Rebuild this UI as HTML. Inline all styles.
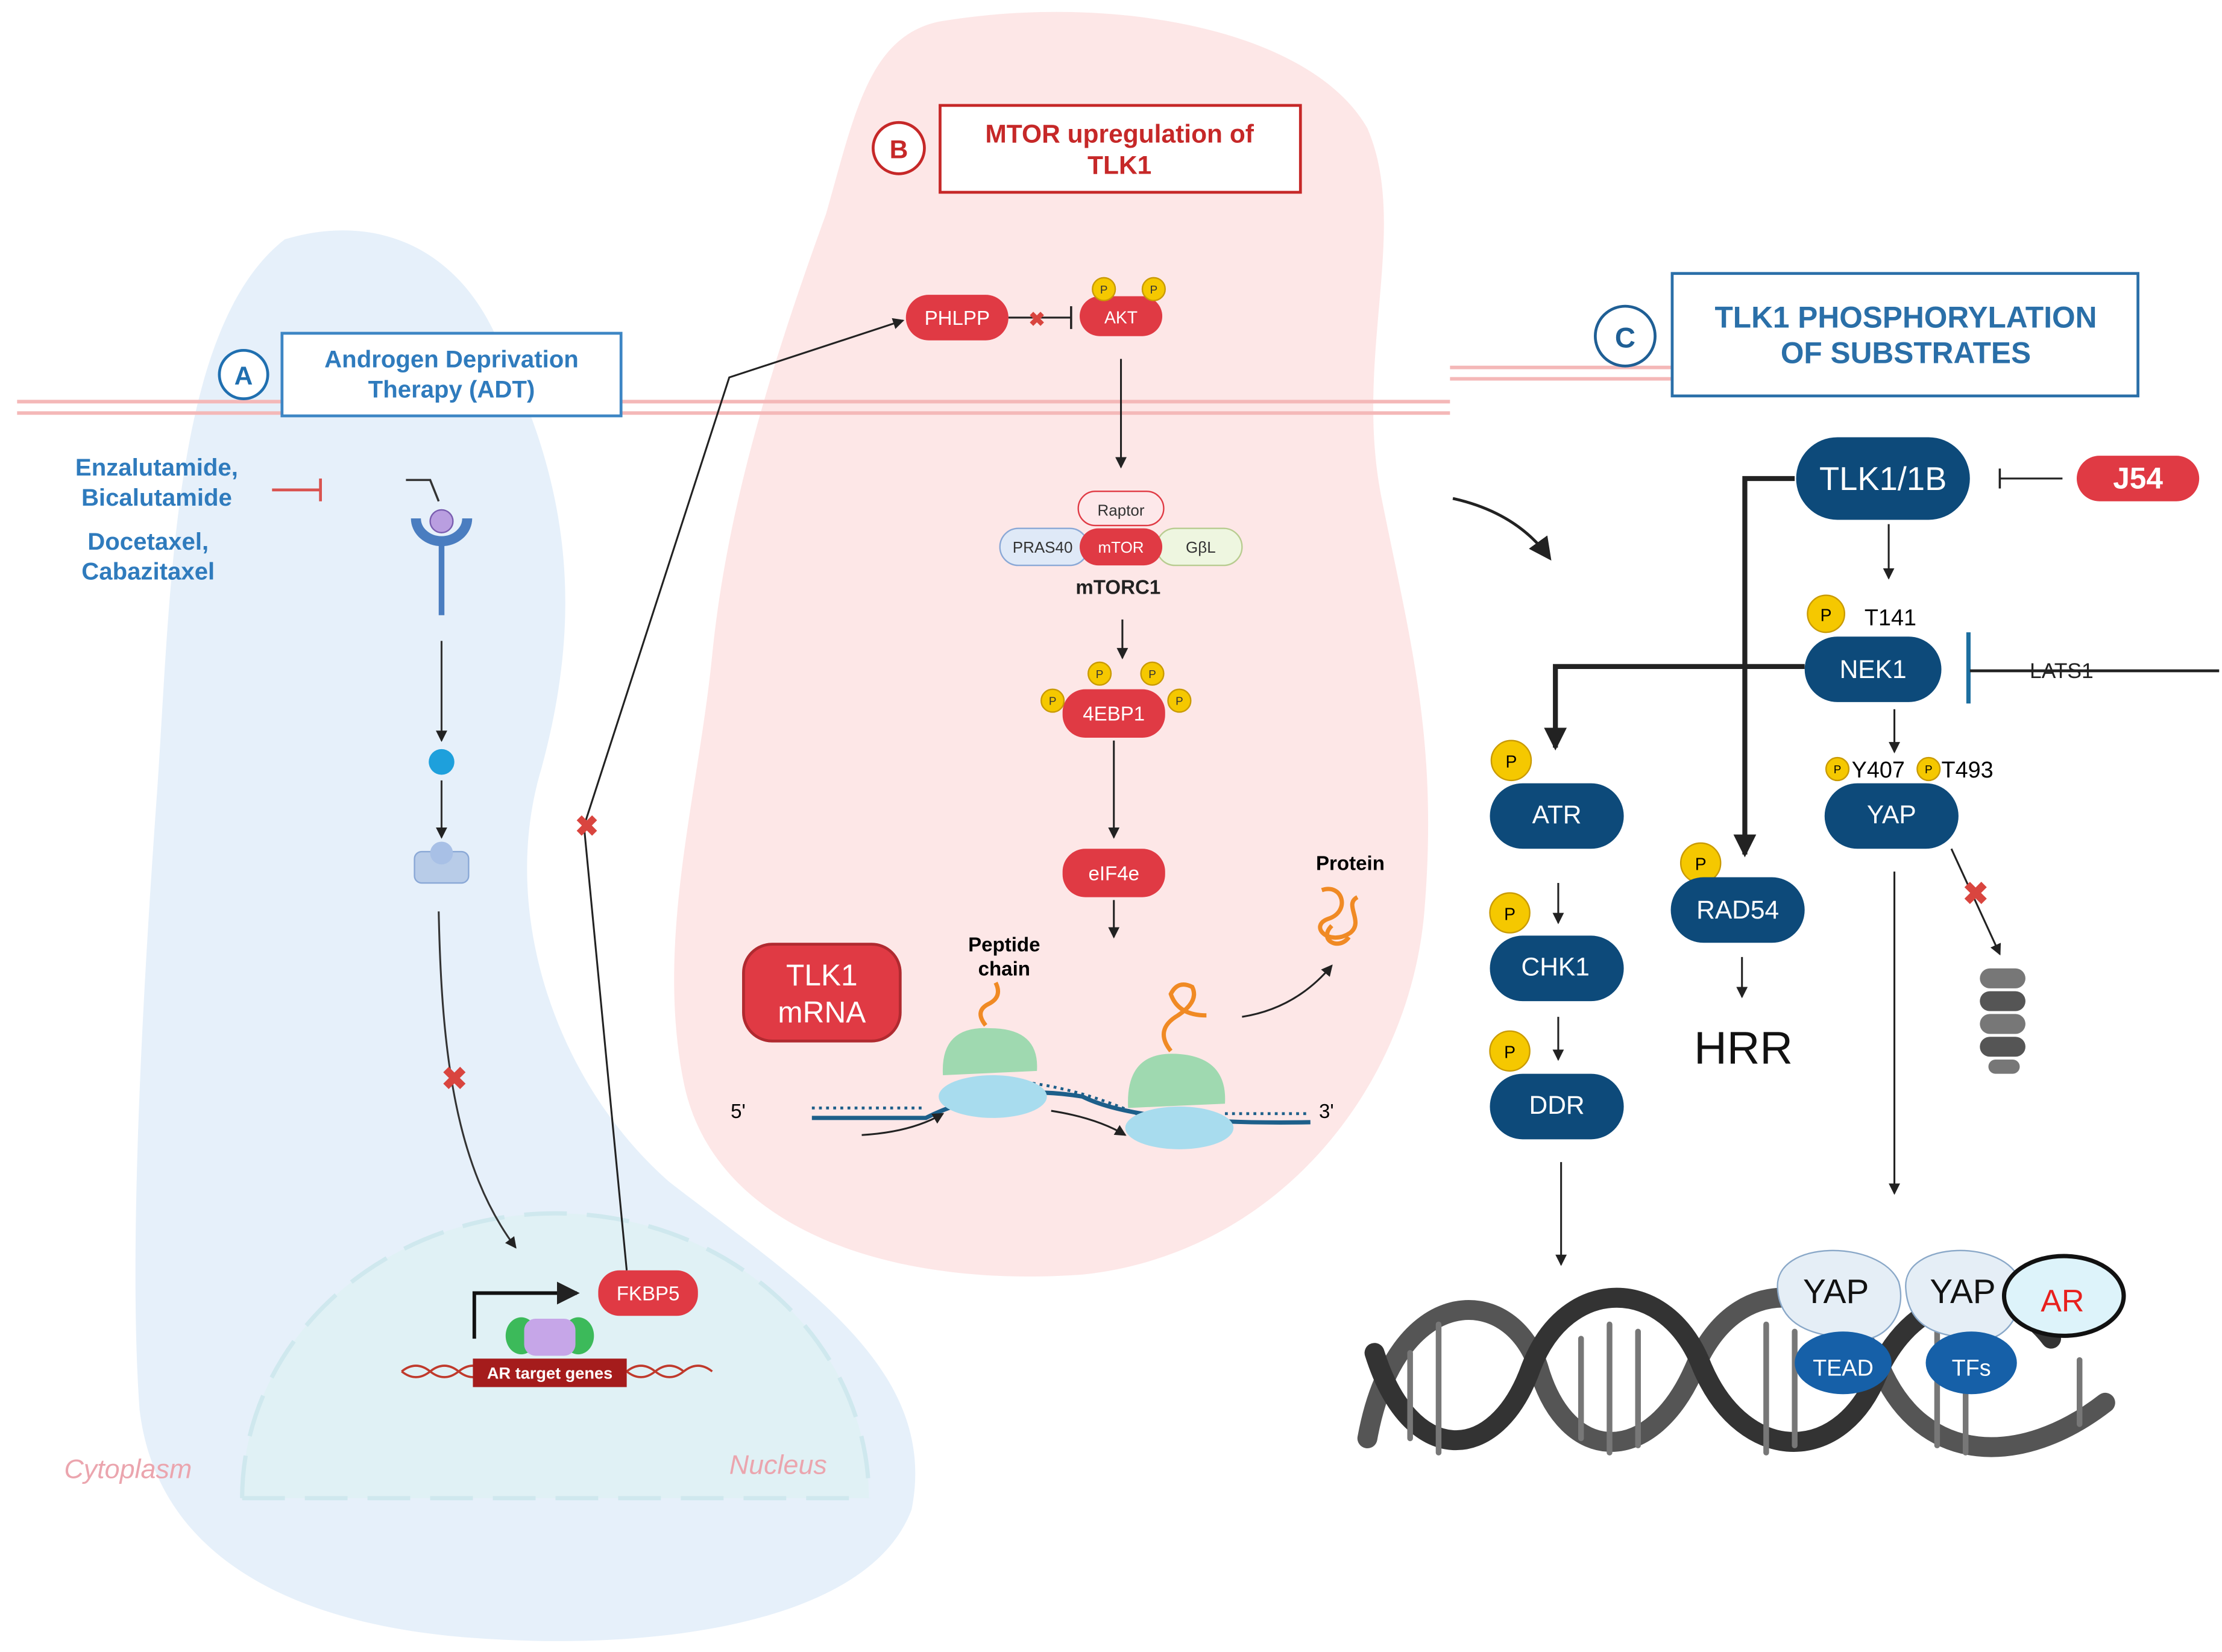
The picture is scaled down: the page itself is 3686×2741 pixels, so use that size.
<!DOCTYPE html>
<html><head><meta charset="utf-8"><style>
html,body{margin:0;padding:0;background:#fff}
svg{display:block}
text{font-family:"Liberation Sans",sans-serif}
</style></head><body>
<svg width="3686" height="2741" viewBox="0 0 1560 1160" xmlns="http://www.w3.org/2000/svg">
<defs>
<marker id="ah" markerWidth="8" markerHeight="8" refX="7" refY="4" orient="auto" markerUnits="userSpaceOnUse"><path d="M0,0 L8,4 L0,8 Z" fill="#222"/></marker>
<marker id="ahb" markerWidth="16" markerHeight="16" refX="14" refY="8" orient="auto" markerUnits="userSpaceOnUse"><path d="M0,0 L16,8 L0,16 Z" fill="#222"/></marker>
</defs>
<path d="M200,168 C260,150 320,170 350,240 C400,340 410,430 380,540 C350,640 390,760 470,830 C560,900 660,960 640,1060 C610,1140 460,1160 330,1150 C200,1140 110,1090 98,990 C90,880 100,700 110,560 C120,420 120,230 200,168 Z" fill="#e6f0fa"/>
<path d="M660,15 C780,-5 920,20 960,90 C990,160 950,250 970,350 C990,450 1010,520 1000,640 C990,760 900,880 760,895 C620,905 500,860 480,760 C460,660 490,560 500,460 C510,360 540,260 580,150 C600,80 610,25 660,15 Z" fill="#fde7e7"/>
<g stroke="#f4b8b8" stroke-width="2.5" fill="none">
<line x1="12" y1="282" x2="1018" y2="282"/><line x1="12" y1="290" x2="1018" y2="290"/>
<line x1="1018" y1="258" x2="1175" y2="258"/><line x1="1018" y1="266" x2="1175" y2="266"/>
</g>
<path d="M170,1052 A220,200 0 0 1 610,1052 Z" fill="#e0f1f5"/>
<path d="M170,1052 A220,200 0 0 1 610,1052" fill="none" stroke="#cfe8ee" stroke-width="3" stroke-dasharray="30,14"/>
<line x1="170" y1="1052" x2="610" y2="1052" stroke="#cfe8ee" stroke-width="3" stroke-dasharray="30,14"/>
<text x="45" y="1038" font-size="19" font-style="italic" fill="#eba5ae">Cytoplasm</text>
<text x="512" y="1035" font-size="19" font-style="italic" fill="#eba5ae">Nucleus</text>

<circle cx="171" cy="263" r="17" fill="#fff" stroke="#1f6fb0" stroke-width="2"/>
<text x="171" y="270" font-size="18" font-weight="bold" fill="#1f6fb0" text-anchor="middle">A</text>
<rect x="198" y="234" width="238" height="58" fill="#fff" stroke="#3d86c4" stroke-width="2"/>
<text x="317" y="258" font-size="17" font-weight="bold" fill="#2f7bbd" text-anchor="middle">Androgen Deprivation</text>
<text x="317" y="279" font-size="17" font-weight="bold" fill="#2f7bbd" text-anchor="middle">Therapy (ADT)</text>
<g font-size="17" font-weight="bold" fill="#2f7bbd" text-anchor="middle">
<text x="110" y="334">Enzalutamide,</text><text x="110" y="355">Bicalutamide</text>
<text x="104" y="386">Docetaxel,</text><text x="104" y="407">Cabazitaxel</text>
</g>
<line x1="191" y1="344" x2="225" y2="344" stroke="#d9534f" stroke-width="2"/><line x1="225" y1="336" x2="225" y2="352" stroke="#d9534f" stroke-width="2"/>
<path d="M285,337 L302,337 L308,352" fill="none" stroke="#333" stroke-width="1.5"/>
<path d="M292,364 A18,16 0 0 0 328,364" fill="none" stroke="#4a7dc0" stroke-width="7"/>
<circle cx="310" cy="366" r="8" fill="#b99ee0" stroke="#7a5db0"/>
<line x1="310" y1="380" x2="310" y2="432" stroke="#4a7dc0" stroke-width="4"/>
<line x1="310" y1="450" x2="310" y2="520" stroke="#333" stroke-width="1.3" marker-end="url(#ah)"/>
<circle cx="310" cy="535" r="9" fill="#1ea0dc"/>
<line x1="310" y1="548" x2="310" y2="588" stroke="#333" stroke-width="1.3" marker-end="url(#ah)"/>
<rect x="291" y="598" width="38" height="22" rx="5" fill="#b8cce8" stroke="#8aa8d6"/>
<circle cx="310" cy="599" r="8" fill="#a8c0e6"/>
<path d="M308,640 C310,740 320,820 362,876" fill="none" stroke="#333" stroke-width="1.3" marker-end="url(#ah)"/>
<text x="319" y="765" font-size="22" fill="#d9453f" text-anchor="middle" font-weight="bold">✖</text>
<path d="M333,940 L333,908 L405,908" fill="none" stroke="#111" stroke-width="2.5" marker-end="url(#ahb)"/>
<path d="M282,963 q10,-8 20,0 t20,0 t20,0 M282,963 q10,8 20,0 t20,0 t20,0 M440,963 q10,-8 20,0 t20,0 t20,0 M440,963 q10,8 20,0 t20,0" fill="none" stroke="#c0392b" stroke-width="1.5"/>
<rect x="332" y="954" width="108" height="20" fill="#a51c1c"/>
<text x="386" y="968" font-size="11.5" font-weight="bold" fill="#fff" text-anchor="middle">AR target genes</text>
<ellipse cx="366" cy="938" rx="11" ry="13" fill="#3cba5a"/><ellipse cx="406" cy="938" rx="11" ry="13" fill="#3cba5a"/>
<rect x="368" y="926" width="36" height="26" rx="8" fill="#c6a6e8"/>
<rect x="420" y="892" width="70" height="32" rx="15" fill="#e03a44"/>
<text x="455" y="913" font-size="14" fill="#fff" text-anchor="middle">FKBP5</text>
<path d="M440,892 L410,580 L512,265 L634,225" fill="none" stroke="#222" stroke-width="1.3" marker-end="url(#ah)"/>
<text x="412" y="587" font-size="20" fill="#d9453f" text-anchor="middle" font-weight="bold">✖</text>

<circle cx="631" cy="104" r="18" fill="#fff" stroke="#c62828" stroke-width="2"/>
<text x="631" y="111" font-size="18" font-weight="bold" fill="#c62828" text-anchor="middle">B</text>
<rect x="660" y="74" width="253" height="61" fill="#fff" stroke="#c62828" stroke-width="2"/>
<text x="786" y="100" font-size="18" font-weight="bold" fill="#c62828" text-anchor="middle">MTOR upregulation of</text>
<text x="786" y="122" font-size="18" font-weight="bold" fill="#c62828" text-anchor="middle">TLK1</text>
<rect x="636" y="207" width="72" height="32" rx="16" fill="#e03a44"/>
<text x="672" y="228" font-size="14" fill="#fff" text-anchor="middle">PHLPP</text>
<line x1="708" y1="223" x2="752" y2="223" stroke="#222" stroke-width="1.3"/><line x1="752" y1="215" x2="752" y2="231" stroke="#222" stroke-width="1.5"/>
<text x="728" y="229" font-size="14" fill="#d9453f" text-anchor="middle" font-weight="bold">✖</text>
<rect x="758" y="208" width="58" height="28" rx="14" fill="#e03a44"/>
<text x="787" y="227" font-size="12" fill="#fff" text-anchor="middle">AKT</text>
<g font-size="8" text-anchor="middle" fill="#333">
<circle cx="775" cy="203" r="8" fill="#f5c800" stroke="#c99a00"/><text x="775" y="206">P</text>
<circle cx="810" cy="203" r="8" fill="#f5c800" stroke="#c99a00"/><text x="810" y="206">P</text>
</g>
<line x1="787" y1="252" x2="787" y2="328" stroke="#222" stroke-width="1.3" marker-end="url(#ah)"/>
<rect x="757" y="345" width="60" height="24" rx="12" fill="#fde8ea" stroke="#e03a44"/>
<text x="787" y="362" font-size="11" text-anchor="middle" fill="#333">Raptor</text>
<rect x="702" y="371" width="62" height="26" rx="13" fill="#dfe9f7" stroke="#8aa8d6"/>
<text x="732" y="388" font-size="11" text-anchor="middle" fill="#333">PRAS40</text>
<rect x="812" y="371" width="60" height="26" rx="13" fill="#eef6e0" stroke="#b8cc90"/>
<text x="843" y="388" font-size="11" text-anchor="middle" fill="#333">GβL</text>
<rect x="758" y="371" width="58" height="26" rx="13" fill="#e03a44"/>
<text x="787" y="388" font-size="11" text-anchor="middle" fill="#fff">mTOR</text>
<text x="785" y="417" font-size="14" font-weight="bold" text-anchor="middle" fill="#222">mTORC1</text>
<line x1="788" y1="435" x2="788" y2="462" stroke="#222" stroke-width="1.3" marker-end="url(#ah)"/>
<rect x="746" y="484" width="72" height="34" rx="16" fill="#e03a44"/>
<text x="782" y="506" font-size="14" fill="#fff" text-anchor="middle">4EBP1</text>
<g font-size="8" text-anchor="middle" fill="#333">
<circle cx="772" cy="473" r="8" fill="#f5c800" stroke="#c99a00"/><text x="772" y="476">P</text>
<circle cx="809" cy="473" r="8" fill="#f5c800" stroke="#c99a00"/><text x="809" y="476">P</text>
<circle cx="739" cy="492" r="8" fill="#f5c800" stroke="#c99a00"/><text x="739" y="495">P</text>
<circle cx="828" cy="492" r="8" fill="#f5c800" stroke="#c99a00"/><text x="828" y="495">P</text>
</g>
<line x1="782" y1="520" x2="782" y2="588" stroke="#222" stroke-width="1.3" marker-end="url(#ah)"/>
<rect x="746" y="596" width="72" height="34" rx="16" fill="#e03a44"/>
<text x="782" y="618" font-size="14" fill="#fff" text-anchor="middle">eIF4e</text>
<line x1="782" y1="632" x2="782" y2="658" stroke="#222" stroke-width="1.3" marker-end="url(#ah)"/>
<rect x="522" y="663" width="110" height="68" rx="20" fill="#e03a44" stroke="#b02a30" stroke-width="2"/>
<text x="577" y="692" font-size="21" fill="#fff" text-anchor="middle">TLK1</text>
<text x="577" y="718" font-size="21" fill="#fff" text-anchor="middle">mRNA</text>
<text x="705" y="668" font-size="14" font-weight="bold" text-anchor="middle">Peptide</text>
<text x="705" y="685" font-size="14" font-weight="bold" text-anchor="middle">chain</text>
<text x="948" y="611" font-size="14" font-weight="bold" text-anchor="middle">Protein</text>
<path d="M928,625 c15,-5 20,15 5,20 c-15,5 0,20 15,10 c10,-8 -5,-20 5,-25 M935,650 c-10,10 5,18 12,8" fill="none" stroke="#f08a24" stroke-width="3"/>
<text x="513" y="785" font-size="14">5'</text><text x="926" y="785" font-size="14">3'</text>
<path d="M570,785 L650,785 Q700,760 760,770 Q800,790 920,788" fill="none" stroke="#1d5f8a" stroke-width="3"/>
<path d="M570,778 L650,778 M720,760 Q760,765 800,783 M860,782 L920,782" fill="none" stroke="#1d5f8a" stroke-width="2" stroke-dasharray="2,3"/>
<ellipse cx="697" cy="770" rx="38" ry="15" fill="#a8dcee"/>
<path d="M662,755 Q660,720 695,722 Q730,722 728,752 Z" fill="#9fd9b0"/>
<path d="M692,720 q-8,-10 2,-15 q10,-5 5,-15" fill="none" stroke="#f08a24" stroke-width="3"/>
<ellipse cx="828" cy="792" rx="38" ry="15" fill="#a8dcee"/>
<path d="M792,778 Q790,738 826,740 Q862,742 860,775 Z" fill="#9fd9b0"/>
<path d="M822,738 q-12,-15 5,-25 q15,-10 10,-20 q-10,-5 -15,5 q5,15 25,15" fill="none" stroke="#f08a24" stroke-width="3"/>
<path d="M605,797 Q640,795 662,782" fill="none" stroke="#222" stroke-width="1.3" marker-end="url(#ah)"/>
<path d="M738,780 Q770,785 790,797" fill="none" stroke="#222" stroke-width="1.3" marker-end="url(#ah)"/>
<path d="M872,714 Q910,708 935,678" fill="none" stroke="#222" stroke-width="1.3" marker-end="url(#ah)"/>

<path d="M1020,350 Q1065,360 1088,392" fill="none" stroke="#222" stroke-width="2" marker-end="url(#ahb)"/>
<circle cx="1141" cy="236" r="21" fill="#fff" stroke="#1f5f95" stroke-width="2"/>
<text x="1141" y="244" font-size="20" font-weight="bold" fill="#1f5f95" text-anchor="middle">C</text>
<rect x="1174" y="192" width="327" height="86" fill="#fff" stroke="#2a6fa8" stroke-width="2"/>
<text x="1338" y="230" font-size="21" font-weight="bold" fill="#2a6fa8" text-anchor="middle">TLK1 PHOSPHORYLATION</text>
<text x="1338" y="255" font-size="21" font-weight="bold" fill="#2a6fa8" text-anchor="middle">OF SUBSTRATES</text>
<rect x="1261" y="307" width="122" height="58" rx="29" fill="#0d4a7a"/>
<text x="1322" y="344" font-size="23" fill="#fff" text-anchor="middle">TLK1/1B</text>
<rect x="1458" y="320" width="86" height="32" rx="16" fill="#e03a44"/>
<text x="1501" y="343" font-size="21" font-weight="bold" fill="#fff" text-anchor="middle">J54</text>
<line x1="1448" y1="336" x2="1404" y2="336" stroke="#222" stroke-width="1.3"/><line x1="1404" y1="329" x2="1404" y2="343" stroke="#222" stroke-width="1.5"/>
<path d="M1260,336 L1225,336 L1225,600" fill="none" stroke="#222" stroke-width="3.5" marker-end="url(#ahb)"/>
<line x1="1326" y1="368" x2="1326" y2="406" stroke="#222" stroke-width="1.3" marker-end="url(#ah)"/>
<circle cx="1282" cy="431" r="13" fill="#f5c800" stroke="#c99a00"/><text x="1282" y="436" font-size="12" text-anchor="middle">P</text>
<text x="1309" y="439" font-size="16">T141</text>
<rect x="1267" y="447" width="96" height="46" rx="23" fill="#0d4a7a"/>
<text x="1315" y="476" font-size="18" fill="#fff" text-anchor="middle">NEK1</text>
<line x1="1382" y1="444" x2="1382" y2="494" stroke="#1d6fa0" stroke-width="3"/>
<line x1="1383" y1="471" x2="1558" y2="471" stroke="#222" stroke-width="2"/>
<text x="1425" y="476" font-size="15" fill="#222">LATS1</text>
<path d="M1267,468 L1092,468 L1092,525" fill="none" stroke="#222" stroke-width="3.5" marker-end="url(#ahb)"/>
<line x1="1330" y1="498" x2="1330" y2="528" stroke="#222" stroke-width="1.3" marker-end="url(#ah)"/>
<circle cx="1290" cy="540" r="8" fill="#f5c800" stroke="#c99a00"/><text x="1290" y="543" font-size="8" text-anchor="middle">P</text>
<text x="1300" y="546" font-size="16">Y407</text>
<circle cx="1354" cy="540" r="8" fill="#f5c800" stroke="#c99a00"/><text x="1354" y="543" font-size="8" text-anchor="middle">P</text>
<text x="1363" y="546" font-size="16">T493</text>
<rect x="1281" y="550" width="94" height="46" rx="23" fill="#0d4a7a"/>
<text x="1328" y="578" font-size="18" fill="#fff" text-anchor="middle">YAP</text>
<line x1="1370" y1="596" x2="1404" y2="670" stroke="#222" stroke-width="1.3" marker-end="url(#ah)"/>
<text x="1387" y="635" font-size="22" fill="#d9453f" text-anchor="middle" font-weight="bold">✖</text>
<g fill="#777"><rect x="1390" y="680" width="32" height="14" rx="7"/><rect x="1390" y="696" width="32" height="14" rx="7" fill="#555"/><rect x="1390" y="712" width="32" height="14" rx="7"/><rect x="1390" y="728" width="32" height="14" rx="7" fill="#555"/><rect x="1396" y="744" width="22" height="10" rx="5"/></g>
<line x1="1330" y1="612" x2="1330" y2="838" stroke="#222" stroke-width="1.3" marker-end="url(#ah)"/>
<circle cx="1061" cy="534" r="14" fill="#f5c800" stroke="#c99a00"/><text x="1061" y="539" font-size="12" text-anchor="middle">P</text>
<rect x="1046" y="550" width="94" height="46" rx="23" fill="#0d4a7a"/>
<text x="1093" y="578" font-size="18" fill="#fff" text-anchor="middle">ATR</text>
<line x1="1094" y1="620" x2="1094" y2="648" stroke="#222" stroke-width="1.3" marker-end="url(#ah)"/>
<circle cx="1060" cy="641" r="14" fill="#f5c800" stroke="#c99a00"/><text x="1060" y="646" font-size="12" text-anchor="middle">P</text>
<rect x="1046" y="657" width="94" height="46" rx="23" fill="#0d4a7a"/>
<text x="1092" y="685" font-size="18" fill="#fff" text-anchor="middle">CHK1</text>
<line x1="1094" y1="714" x2="1094" y2="744" stroke="#222" stroke-width="1.3" marker-end="url(#ah)"/>
<circle cx="1060" cy="738" r="14" fill="#f5c800" stroke="#c99a00"/><text x="1060" y="743" font-size="12" text-anchor="middle">P</text>
<rect x="1046" y="754" width="94" height="46" rx="23" fill="#0d4a7a"/>
<text x="1093" y="782" font-size="18" fill="#fff" text-anchor="middle">DDR</text>
<line x1="1096" y1="816" x2="1096" y2="888" stroke="#222" stroke-width="1.3" marker-end="url(#ah)"/>
<circle cx="1194" cy="606" r="14" fill="#f5c800" stroke="#c99a00"/><text x="1194" y="611" font-size="12" text-anchor="middle">P</text>
<rect x="1173" y="616" width="94" height="46" rx="23" fill="#0d4a7a"/>
<text x="1220" y="645" font-size="18" fill="#fff" text-anchor="middle">RAD54</text>
<line x1="1223" y1="672" x2="1223" y2="700" stroke="#222" stroke-width="1.3" marker-end="url(#ah)"/>
<text x="1224" y="747" font-size="32" text-anchor="middle" fill="#111">HRR</text>
<g fill="none" stroke-linecap="round">
<path d="M960,1010 C980,900 1060,900 1080,960 C1100,1030 1160,1030 1190,960 C1220,890 1290,900 1320,960 C1350,1030 1420,1030 1478,985" stroke="#555" stroke-width="14"/>
<path d="M965,950 C990,1030 1050,1030 1075,960 C1100,895 1170,895 1195,960 C1225,1030 1295,1030 1320,960 C1350,900 1410,900 1440,940" stroke="#333" stroke-width="14"/>
<g stroke="#777" stroke-width="4">
<line x1="990" y1="950" x2="990" y2="1010"/><line x1="1010" y1="930" x2="1010" y2="1020"/><line x1="1110" y1="940" x2="1110" y2="1010"/><line x1="1130" y1="930" x2="1130" y2="1020"/><line x1="1150" y1="935" x2="1150" y2="1015"/><line x1="1240" y1="930" x2="1240" y2="1020"/><line x1="1260" y1="935" x2="1260" y2="1015"/><line x1="1360" y1="935" x2="1360" y2="1015"/><line x1="1380" y1="930" x2="1380" y2="1020"/><line x1="1460" y1="955" x2="1460" y2="1000"/>
</g></g>
<path d="M1248,905 C1245,870 1320,870 1333,900 C1340,925 1320,945 1300,940 C1280,938 1250,935 1248,905 Z" fill="#e5eef6" stroke="#8aa8c8"/>
<text x="1289" y="915" font-size="24" fill="#111" text-anchor="middle">YAP</text>
<path d="M1338,905 C1335,870 1410,870 1418,900 C1422,925 1405,945 1385,940 C1365,938 1340,935 1338,905 Z" fill="#e5eef6" stroke="#8aa8c8"/>
<text x="1378" y="915" font-size="24" fill="#111" text-anchor="middle">YAP</text>
<ellipse cx="1449" cy="910" rx="42" ry="28" fill="#ddf3fa" stroke="#111" stroke-width="3"/>
<text x="1448" y="921" font-size="22" fill="#e8211e" text-anchor="middle">AR</text>
<ellipse cx="1294" cy="957" rx="34" ry="22" fill="#1660a8"/>
<text x="1294" y="966" font-size="16" fill="#fff" text-anchor="middle">TEAD</text>
<ellipse cx="1384" cy="957" rx="32" ry="22" fill="#1660a8"/>
<text x="1384" y="966" font-size="16" fill="#fff" text-anchor="middle">TFs</text>
</svg>
</body></html>
